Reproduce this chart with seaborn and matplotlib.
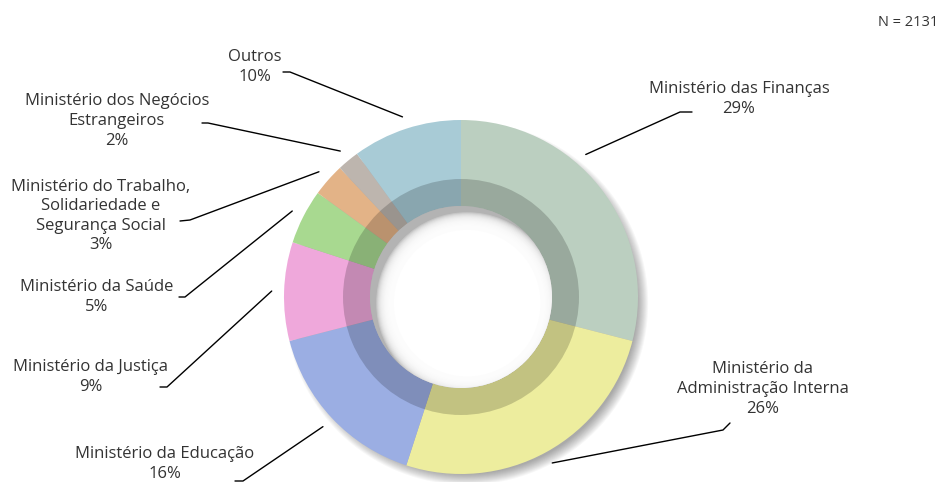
import numpy as np
import matplotlib.pyplot as plt
import seaborn as sns
from matplotlib.patches import Circle, Wedge

sns.set_theme(style="white")
plt.rcParams['font.family'] = ['Open Sans', 'DejaVu Sans']

# data
ministerios = ['Ministério das Finanças',
               'Ministério da\nAdministração Interna',
               'Ministério da Educação',
               'Ministério da Justiça',
               'Ministério da Saúde',
               'Ministério do Trabalho,\nSolidariedade e\nSegurança Social',
               'Ministério dos Negócios\nEstrangeiros',
               'Outros']
percent = [29, 26, 16, 9, 5, 3, 2, 10]
total_n = 2131
colors = ['#BBCFC0', '#EDED9E', '#9BAEE3', '#EFA8DB', '#A8D990', '#E3B387', '#BDB5AE', '#A8CBD6']

# layout (pixel positions on a 942x482 canvas)
cx, cy, R = 461, 297, 177
label_xy = [(739, 99), (763, 389), (165, 464), (91, 377), (97, 297), (101, 216), (117, 121), (255, 67)]
leader_start = [((692, 112), (680, 112)), ((730, 423), (723, 430)), ((235, 481), (243, 481)),
                ((160, 387), (167, 387)), ((179, 297), (185, 297)), ((180, 221), (190, 220)),
                ((202, 123), (208, 123)), ((283, 72), (290, 72))]
anchor_shift = [11, 0, 0, 0, 0, 0, 0, 0]


def px(p):
    return ((p[0] - cx) / R, (cy - p[1]) / R)


fig = plt.figure(figsize=(9.42, 4.82), dpi=100)
ax = fig.add_axes([0, 0, 1, 1])

r_in = 91 / R
r_band = 118 / R

# soft drop shadow behind the ring (bottom-right)
for i in range(12):
    ax.add_patch(Circle((0.032, -0.036), 0.965 + 0.0055 * i, fc='black', alpha=0.03, lw=0, zorder=0))

wedges, _ = ax.pie(percent, colors=colors, startangle=90, counterclock=False, radius=1,
                   wedgeprops=dict(width=1 - r_in, linewidth=0))
for w in wedges:
    w.set_zorder(2)

# darker inner band
ax.add_patch(Wedge((0, 0), r_band, 0, 360, width=r_band - r_in, fc='black', alpha=0.18, lw=0, zorder=3))

# hole with inset shadow from the top-left
hole = Circle((0, 0), r_in, fc='#b3b3b3', lw=0, zorder=3)
ax.add_patch(hole)
for i in range(16):
    c = Circle((0.035, -0.035), r_in - 0.006 * i, fc='white', alpha=0.25, lw=0, zorder=4)
    ax.add_patch(c)
    c.set_clip_path(hole)
inner = Circle((0.035, -0.035), r_in - 0.1, fc='white', lw=0, zorder=4)
ax.add_patch(inner)

# labels and leader lines
cum = np.cumsum([0] + percent)
for k, name in enumerate(ministerios):
    mid = 90 - 3.6 * (cum[k] + percent[k] / 2) + anchor_shift[k]
    end = (1.07 * np.cos(np.radians(mid)), 1.07 * np.sin(np.radians(mid)))
    p0, p1 = px(leader_start[k][0]), px(leader_start[k][1])
    ax.plot([p0[0], p1[0], end[0]], [p0[1], p1[1], end[1]], color='black', lw=1, zorder=5)
    tx, ty = px(label_xy[k])
    ax.text(tx, ty, f'{name}\n{percent[k]}%', ha='center', va='center', multialignment='center',
            fontsize=12, color='#333333', linespacing=1.3, zorder=6)

ax.set_xlim(-cx / R, (942 - cx) / R)
ax.set_ylim(-(482 - cy) / R, cy / R)
ax.set_aspect('equal')
ax.axis('off')

fig.text(938 / 942, 1 - 22 / 482, f'N = {total_n}', ha='right', va='center', fontsize=10.5, color='#333333')

fig.savefig('out.png', dpi=100)
